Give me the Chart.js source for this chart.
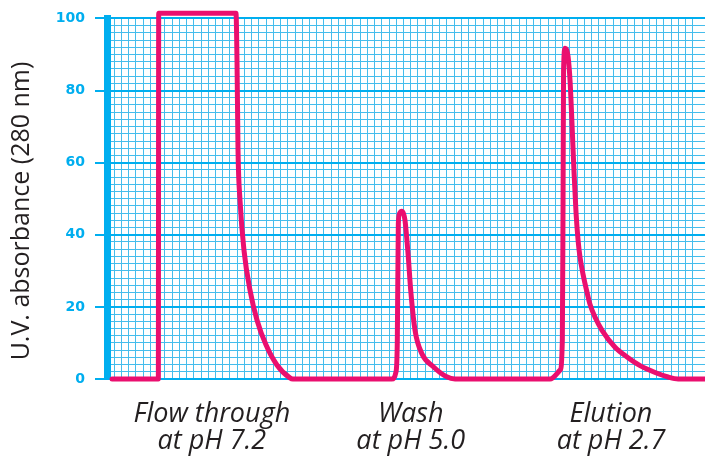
<!DOCTYPE html>
<html>
<head>
<meta charset="utf-8">
<script src="https://cdn.jsdelivr.net/npm/chart.js@4"></script>
<style>
  html, body { margin: 0; padding: 0; background: #fff; }
</style>
</head>
<body>
<canvas id="chart" width="705" height="458"></canvas>
<script>
// elution volume (1 unit = one small square of the grid) and U.V. absorbance
const volume = [
    0.7, 7.1, 7.15, 17.84, 17.98, 18.12, 18.4, 18.95, 19.78, 20.75, 22.0, 23.5, 25.3, 25.7,
    39.38, 39.97, 40.15, 40.29, 40.46, 40.76, 41.0, 41.22, 41.67, 42.0, 42.6, 43.53, 45.13, 46.98, 48.13,
    61.27, 62.66, 62.97, 63.07, 63.14, 63.35, 63.76, 64.04, 64.32, 64.59, 64.87, 65.15, 65.42, 65.84,
    66.39, 66.8, 67.5, 68.46, 70.26, 71.92, 73.72, 75.8, 77.59, 78.98, 82.7
];
const absorbance = [
    0, 0, 101.4, 101.4, 88, 63.3, 49.4, 35.6, 24.6, 16.3, 9.4, 3.9, 0.3, 0,
    0, 2.0, 10.8, 43.1, 45.9, 46.5, 45.9, 43.9, 33.8, 24.6, 13.5, 7.1, 3.4, 0.6, 0,
    0, 2.5, 10.8, 49.4, 85.4, 91.7, 89.5, 82.6, 70.2, 57.2, 45.9, 38.4, 33.7, 29.0,
    24.0, 20.7, 17.1, 13.5, 8.8, 6.1, 3.7, 1.8, 0.55, 0, 0
];
const yTicks = [0, 20, 40, 60, 80, 100];
const phasePos = [14.5, 42.0, 69.7];
const phaseLabels = [
    ["Flow through", "at pH 7.2"],
    ["Wash", "at pH 5.0"],
    ["Elution", "at pH 2.7"]
];
const yTitle = "U.V. absorbance (280 nm)";

const BLUE = "#00aeef";
const GRID = "#45bdec";

// rotated axis title, placed by hand
const yTitlePlugin = {
    id: "yTitle",
    afterDraw: function (chart) {
        var ctx = chart.ctx;
        ctx.save();
        ctx.translate(22, 211);
        ctx.rotate(-Math.PI / 2);
        ctx.font = "25px 'Open Sans'";
        ctx.fillStyle = "#231f20";
        ctx.textAlign = "center";
        ctx.textBaseline = "middle";
        ctx.fillText(yTitle, 0, 0);
        ctx.restore();
    }
};

var ctx = document.getElementById("chart").getContext("2d");
var myChart = new Chart(ctx, {
    type: "line",
    data: {
        datasets: [
            {
                data: volume.map(function (v, i) { return { x: v, y: absorbance[i] }; }),
                borderColor: "#ea0f6f",
                borderWidth: 5,
                pointRadius: 0,
                cubicInterpolationMode: "monotone",
                borderCapStyle: "round",
                borderJoinStyle: "round",
                clip: false,
            },
        ],
    },
    options: {
        responsive: false,
        animation: false,
        layout: { padding: { top: 17, right: 0, bottom: 0, left: 0 } },
        plugins: {
            legend: { display: false },
            tooltip: { enabled: false },
        },
        scales: {
            x: {
                type: "linear",
                position: "bottom",
                min: 0,
                max: 82.7,
                ticks: { display: false, stepSize: 1 },
                grid: { color: GRID, lineWidth: 1, drawTicks: false },
                border: { display: false },
            },
            yMinor: {
                type: "linear",
                position: "right",
                min: 0,
                max: 100,
                ticks: { display: false, stepSize: 2 },
                grid: { color: GRID, lineWidth: 1, drawTicks: false },
                border: { display: false },
                afterFit: function (s) { s.width = 0; },
            },
            x2: {
                type: "linear",
                position: "bottom",
                min: 0,
                max: 82.7,
                grid: { display: false, drawTicks: false },
                border: { display: false },
                afterBuildTicks: function (s) {
                    s.ticks = phasePos.map(function (v) { return { value: v }; });
                },
                ticks: {
                    autoSkip: false,
                    maxRotation: 0,
                    padding: 22,
                    color: "#231f20",
                    font: { family: "'Open Sans'", style: "italic", size: 27, lineHeight: 1.0 },
                    callback: function (v, i) { return phaseLabels[i]; },
                },
                afterFit: function (s) { s.height = 79; },
            },
            y: {
                type: "linear",
                position: "left",
                min: 0,
                max: 100,
                afterBuildTicks: function (s) {
                    s.ticks = yTicks.map(function (v) { return { value: v }; });
                },
                ticks: {
                    color: BLUE,
                    padding: 10,
                    font: { family: "DejaVu Sans", weight: "bold", size: 14 },
                },
                grid: { color: BLUE, lineWidth: 2, tickLength: 12, tickColor: BLUE, tickWidth: 2 },
                border: { color: BLUE, width: 7 },
                afterFit: function (s) { s.width = 107; },
            },
        },
    },
    plugins: [yTitlePlugin],
});
</script>
</body>
</html>
